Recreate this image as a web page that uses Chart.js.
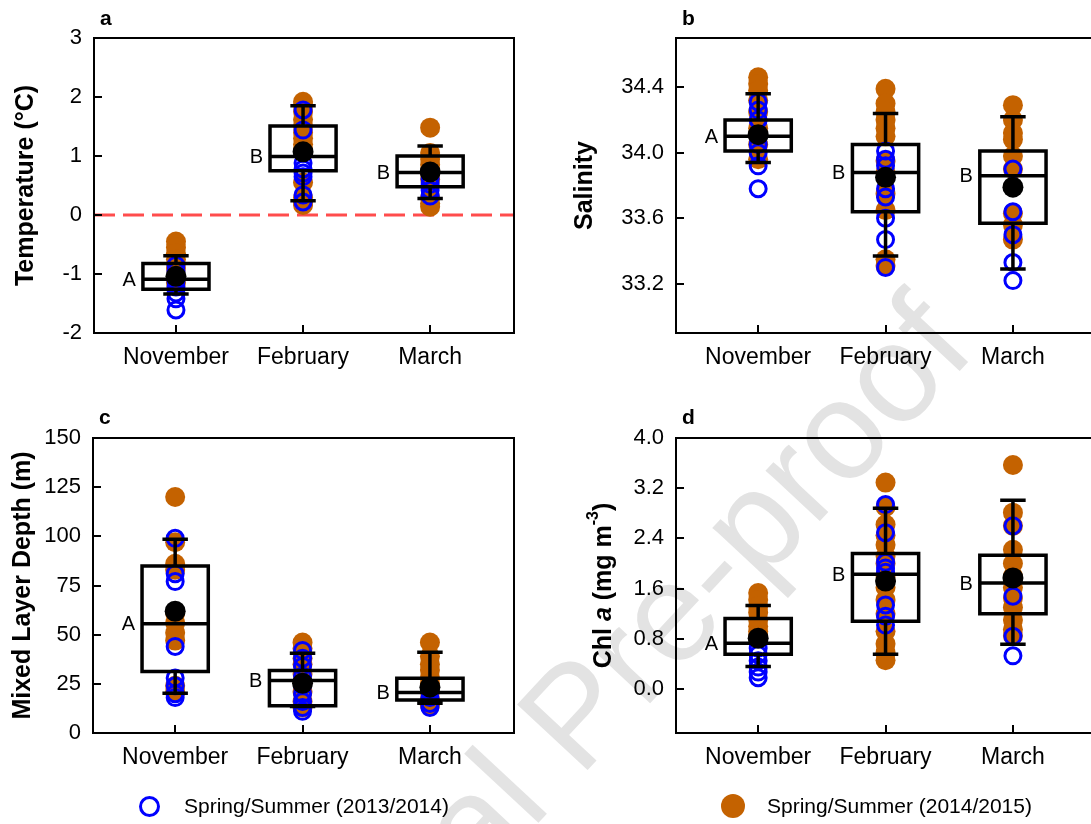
<!DOCTYPE html>
<html>
<head>
<meta charset="utf-8">
<script src="https://cdn.jsdelivr.net/npm/chart.js@4.4.0/dist/chart.umd.min.js"></script>
<style>
  body { margin: 0; width: 1091px; height: 824px; overflow: hidden; background: #fff; position: relative;
         font-family: "Liberation Sans", Arial, sans-serif; }
  .wm { position: absolute; left: 205px; top: 1040px; font-size: 140px; line-height: 1; color: #e3e3e3;
        white-space: nowrap; transform: rotate(-47deg); transform-origin: 0 50%; z-index: 0; }
  .panel { position: absolute; z-index: 1; }
  .panel canvas { display: block; }
  .tag { position: absolute; font-weight: bold; font-size: 21px; line-height: 21px; z-index: 2; }
  .leg { position: absolute; font-size: 21px; line-height: 24px; z-index: 2; }
  .mk { position: absolute; box-sizing: border-box; width: 24px; height: 24px; border-radius: 50%; z-index: 2; }
</style>
</head>
<body>
<div class="wm">Journal Pre-proof</div>

<div class="panel" style="left:0;top:0;width:545px;height:395px"><canvas id="chartA" width="545" height="395"></canvas></div>
<div class="panel" style="left:545px;top:0;width:552px;height:395px"><canvas id="chartB" width="552" height="395"></canvas></div>
<div class="panel" style="left:0;top:400px;width:545px;height:395px"><canvas id="chartC" width="545" height="395"></canvas></div>
<div class="panel" style="left:545px;top:400px;width:552px;height:395px"><canvas id="chartD" width="552" height="395"></canvas></div>

<div class="tag" style="left:100px;top:7px">a</div>
<div class="tag" style="left:682px;top:7px">b</div>
<div class="tag" style="left:99px;top:406px">c</div>
<div class="tag" style="left:682px;top:406px">d</div>

<div id="legend"></div>

<script>
const months = ["November", "February", "March"];
const seriesNames = ["Spring/Summer (2013/2014)", "Spring/Summer (2014/2015)"];

/* =======================
   a: Temperature
======================= */
const tempBlue = [
  [-1.61, -1.42, -1.32, -1.22, -1.12, -0.95, -0.85],
  [1.78, 1.44, 1.05, 0.88, 0.78, 0.71, 0.65, 0.34, 0.22],
  [0.62, 0.52, 0.42, 0.32]
];
const tempOrange = [
  [-0.45, -0.55, -0.65, -0.75, -0.9, -1.15],
  [1.92, 1.85, 1.75, 1.62, 1.5, 1.4, 1.3, 1.2, 1.1, 0.55, 0.3, 0.22, 0.17],
  [1.48, 1.05, 0.95, 0.85, 0.75, 0.6, 0.3, 0.2, 0.14]
];
// [low whisker, Q1, median, Q3, high whisker, mean]
const tempStats = [
  [-1.34, -1.26, -1.09, -0.82, -0.69, -1.04],
  [0.24, 0.75, 0.99, 1.51, 1.85, 1.07],
  [0.28, 0.48, 0.72, 1.0, 1.17, 0.73]
];
const tempLetters = ["A", "B", "B"];
const tempTicks = [-2, -1, 0, 1, 2, 3];

/* =======================
   b: Salinity
======================= */
const salBlue = [
  [34.31, 34.26, 34.2, 34.1, 34.05, 34.0, 33.92, 33.78],
  [34.01, 33.96, 33.92, 33.78, 33.73, 33.6, 33.47, 33.3],
  [33.9, 33.64, 33.5, 33.33, 33.22]
];
const salOrange = [
  [34.46, 34.42, 34.38, 34.32, 34.25, 34.15, 34.05, 33.96],
  [34.39, 34.3, 34.25, 34.2, 34.15, 34.1, 33.95, 33.88, 33.75, 33.65, 33.35, 33.31],
  [34.29, 34.2, 34.12, 34.08, 33.98, 33.9, 33.63, 33.56, 33.47]
];
const salStats = [
  [33.94, 34.01, 34.1, 34.2, 34.36, 34.11],
  [33.37, 33.64, 33.88, 34.05, 34.24, 33.85],
  [33.29, 33.57, 33.86, 34.01, 34.22, 33.79]
];
const salLetters = ["A", "B", "B"];
const salTicks = [33.2, 33.6, 34.0, 34.4];

/* =======================
   c: Mixed layer depth
======================= */
const mldBlue = [
  [99, 81, 77, 44, 28, 24, 20, 18],
  [42, 38, 34, 29, 24, 20, 16, 13, 11],
  [22, 18, 15, 13]
];
const mldOrange = [
  [120, 97, 86, 83, 61, 56, 51, 47, 24, 21],
  [46, 43, 38, 35, 30, 26, 21, 16, 13],
  [46, 39, 35, 32, 28, 25, 21, 17, 14]
];
const mldStats = [
  [20.2, 31.3, 55.6, 84.9, 98.5, 61.9],
  [13.5, 13.9, 26.7, 31.8, 40.6, 25.3],
  [15.1, 16.8, 20.6, 27.9, 41, 23.3]
];
const mldLetters = ["A", "B", "B"];
const mldTicks = [0, 25, 50, 75, 100, 125, 150];

/* =======================
   d: Chl a
======================= */
const chlBlue = [
  [0.65, 0.55, 0.45, 0.35, 0.27, 0.18],
  [2.94, 2.49, 2.02, 1.93, 1.86, 1.34, 1.16, 1.02],
  [2.6, 1.48, 0.84, 0.53]
];
const chlOrange = [
  [1.53, 1.42, 1.32, 1.22, 1.1, 1.0, 0.92, 0.85],
  [3.29, 2.9, 2.62, 2.45, 2.3, 2.12, 2.0, 1.8, 1.62, 1.42, 1.2, 0.92, 0.72, 0.58, 0.46],
  [3.57, 2.81, 2.6, 2.22, 2.0, 1.8, 1.62, 1.45, 1.3, 1.1, 0.95, 0.85]
];
const chlStats = [
  [0.36, 0.555, 0.73, 1.125, 1.33, 0.81],
  [0.555, 1.08, 1.83, 2.16, 2.88, 1.72],
  [0.715, 1.2, 1.69, 2.13, 3.01, 1.77]
];
const chlLetters = ["A", "B", "B"];
const chlTicks = [0, 0.8, 1.6, 2.4, 3.2, 4.0];

/* =======================
   Styles
======================= */
const BLUE = "#0000ff";
const ORANGE = "#c46200";
const X_MIN = 0.355, X_MAX = 3.66;
const BOX_HALF = 0.26, CAP_HALF = 0.1;

Chart.defaults.font.family = "'Liberation Sans', Arial, sans-serif";
Chart.defaults.color = "#000";

function columnPoints(groups) {
  const pts = [];
  groups.forEach((vals, i) => vals.forEach(v => pts.push({ x: i + 1, y: v })));
  return pts;
}

function boxPoints(stats) {
  const pts = [];
  stats.forEach((s, i) => {
    const x = i + 1;
    const [lo, q1, med, q3, hi] = s;
    pts.push({ x: x, y: q1 }, { x: x + BOX_HALF, y: q1 }, { x: x + BOX_HALF, y: q3 },
             { x: x - BOX_HALF, y: q3 }, { x: x - BOX_HALF, y: q1 }, { x: x, y: q1 }, { x: x, y: null });
    pts.push({ x: x - BOX_HALF, y: med }, { x: x + BOX_HALF, y: med }, { x: x, y: null });
    pts.push({ x: x, y: q3 }, { x: x, y: hi }, { x: x, y: null });
    pts.push({ x: x - CAP_HALF, y: hi }, { x: x + CAP_HALF, y: hi }, { x: x, y: null });
    pts.push({ x: x, y: q1 }, { x: x, y: lo }, { x: x, y: null });
    pts.push({ x: x - CAP_HALF, y: lo }, { x: x + CAP_HALF, y: lo }, { x: x, y: null });
  });
  return pts;
}

// frame + inward tick marks
const framePlugin = {
  id: "frame",
  afterDraw(chart) {
    const { ctx, chartArea: a, scales } = chart;
    ctx.save();
    ctx.strokeStyle = "#000";
    ctx.lineWidth = 2;
    ctx.strokeRect(a.left, a.top, a.right - a.left, a.bottom - a.top);
    ctx.beginPath();
    scales.y.ticks.forEach(t => {
      const y = Math.round(scales.y.getPixelForValue(t.value));
      ctx.moveTo(a.left, y);
      ctx.lineTo(a.left + 8, y);
    });
    scales.x.ticks.forEach(t => {
      const x = Math.round(scales.x.getPixelForValue(t.value));
      ctx.moveTo(x, a.bottom);
      ctx.lineTo(x, a.bottom - 8);
    });
    ctx.stroke();
    ctx.restore();
  }
};

// A / B group letters next to each box, at median height
const lettersPlugin = {
  id: "letters",
  afterDatasetsDraw(chart, args, opts) {
    const { ctx, scales } = chart;
    ctx.save();
    ctx.font = "20px 'Liberation Sans', Arial, sans-serif";
    ctx.fillStyle = "#000";
    ctx.textAlign = "right";
    ctx.textBaseline = "middle";
    opts.letters.forEach((l, i) => {
      const x = scales.x.getPixelForValue(i + 1 - BOX_HALF) - 7;
      const y = scales.y.getPixelForValue(opts.stats[i][2]);
      ctx.fillText(l, x, y + 1);
    });
    ctx.restore();
  }
};

// y title with mixed styles (Chl a panel)
const richTitlePlugin = {
  id: "richTitle",
  afterDraw(chart, args, opts) {
    if (!opts.parts) return;
    const { ctx, chartArea: a } = chart;
    ctx.save();
    ctx.translate(opts.x, (a.top + a.bottom) / 2);
    ctx.rotate(-Math.PI / 2);
    ctx.fillStyle = "#000";
    ctx.textBaseline = "middle";
    let total = 0;
    opts.parts.forEach(p => { ctx.font = p[1]; total += ctx.measureText(p[0]).width; });
    let x = -total / 2;
    opts.parts.forEach(p => {
      ctx.font = p[1];
      ctx.fillText(p[0], x, 8 + (p[2] || 0));
      x += ctx.measureText(p[0]).width;
    });
    ctx.restore();
  }
};

function makePanel(id, p) {
  const datasets = [];
  if (p.zeroLine) {
    datasets.push({
      data: [{ x: X_MIN, y: 0 }, { x: X_MAX, y: 0 }],
      showLine: true, borderColor: "#ff4c4c", borderWidth: 3, borderDash: [21, 8],
      pointRadius: 0, order: 5
    });
  }
  datasets.push({
    data: columnPoints(p.orange), pointRadius: 10, backgroundColor: ORANGE,
    borderWidth: 0, order: 4
  });
  datasets.push({
    data: columnPoints(p.blue), pointRadius: 8, backgroundColor: "rgba(0,0,0,0)",
    borderColor: BLUE, borderWidth: 3, order: 3
  });
  datasets.push({
    data: boxPoints(p.stats), showLine: true, spanGaps: false, borderColor: "#000",
    borderWidth: 3.5, borderJoinStyle: "miter", pointRadius: 0, order: 2
  });
  datasets.push({
    data: p.stats.map((s, i) => ({ x: i + 1, y: s[5] })), pointRadius: 10.5,
    backgroundColor: "#000", borderWidth: 0, order: 1
  });

  return new Chart(document.getElementById(id), {
    type: "scatter",
    data: { datasets },
    plugins: [framePlugin, lettersPlugin, richTitlePlugin],
    options: {
      responsive: false,
      animation: false,
      layout: { autoPadding: false, padding: { top: 38, right: p.rightPad, left: 0, bottom: 0 } },
      plugins: {
        legend: { display: false },
        tooltip: { enabled: false },
        letters: { letters: p.letters, stats: p.stats },
        richTitle: p.richTitle || {}
      },
      scales: {
        x: {
          type: "linear", min: X_MIN, max: X_MAX,
          grid: { display: false, drawTicks: false }, border: { display: false },
          afterBuildTicks: s => { s.ticks = months.map((m, i) => ({ value: i + 1 })); },
          afterFit: s => { s.height = 62; },
          ticks: { font: { size: 23 }, padding: 11, autoSkip: false, maxRotation: 0,
                   callback: v => months[v - 1] }
        },
        y: {
          type: "linear", min: p.yMin, max: p.yMax,
          grid: { display: false, drawTicks: false }, border: { display: false },
          afterBuildTicks: s => { s.ticks = p.yTicks.map(v => ({ value: v })); },
          afterFit: s => { s.width = p.axisW; },
          ticks: { font: { size: 22 }, padding: 12, callback: v => v.toFixed(p.dec) },
          title: {
            display: !!p.yTitle, text: p.yTitle, font: { size: 25, weight: "bold" },
            padding: { top: p.titlePad, bottom: 0 }
          }
        }
      }
    }
  });
}

makePanel("chartA", {
  blue: tempBlue, orange: tempOrange, stats: tempStats, letters: tempLetters,
  yMin: -2, yMax: 3, yTicks: tempTicks, dec: 0, yTitle: "Temperature (°C)",
  titlePad: 11, axisW: 94, rightPad: 31, zeroLine: true
});
makePanel("chartB", {
  blue: salBlue, orange: salOrange, stats: salStats, letters: salLetters,
  yMin: 32.9, yMax: 34.7, yTicks: salTicks, dec: 1, yTitle: "Salinity",
  titlePad: 25, axisW: 131, rightPad: 0
});
makePanel("chartC", {
  blue: mldBlue, orange: mldOrange, stats: mldStats, letters: mldLetters,
  yMin: 0, yMax: 150, yTicks: mldTicks, dec: 0, yTitle: "Mixed Layer Depth (m)",
  titlePad: 8, axisW: 93, rightPad: 31
});
makePanel("chartD", {
  blue: chlBlue, orange: chlOrange, stats: chlStats, letters: chlLetters,
  yMin: -0.7, yMax: 4.0, yTicks: chlTicks, dec: 1, yTitle: "",
  axisW: 131, rightPad: 0,
  richTitle: {
    x: 51,
    parts: [
      ["Chl ", "bold 25px 'Liberation Sans', Arial"],
      ["a", "italic bold 25px 'Liberation Sans', Arial"],
      [" (mg m", "bold 25px 'Liberation Sans', Arial"],
      ["-3", "bold 16px 'Liberation Sans', Arial", -10],
      [")", "bold 25px 'Liberation Sans', Arial"]
    ]
  }
});

/* =======================
   Legend
======================= */
const legend = document.getElementById("legend");
const legendPos = [[149, 184], [733, 767]];
seriesNames.forEach((name, i) => {
  const mk = document.createElement("div");
  mk.className = "mk";
  if (i === 0) {
    mk.style.border = "3px solid " + BLUE;
    mk.style.width = "21px"; mk.style.height = "21px";
    mk.style.left = (legendPos[i][0] - 10) + "px"; mk.style.top = "796px";
  } else {
    mk.style.background = ORANGE;
    mk.style.left = (legendPos[i][0] - 12) + "px"; mk.style.top = "794px";
  }
  legend.appendChild(mk);
  const t = document.createElement("div");
  t.className = "leg";
  t.style.left = legendPos[i][1] + "px";
  t.style.top = "794px";
  t.textContent = name;
  legend.appendChild(t);
});
</script>
</body>
</html>
